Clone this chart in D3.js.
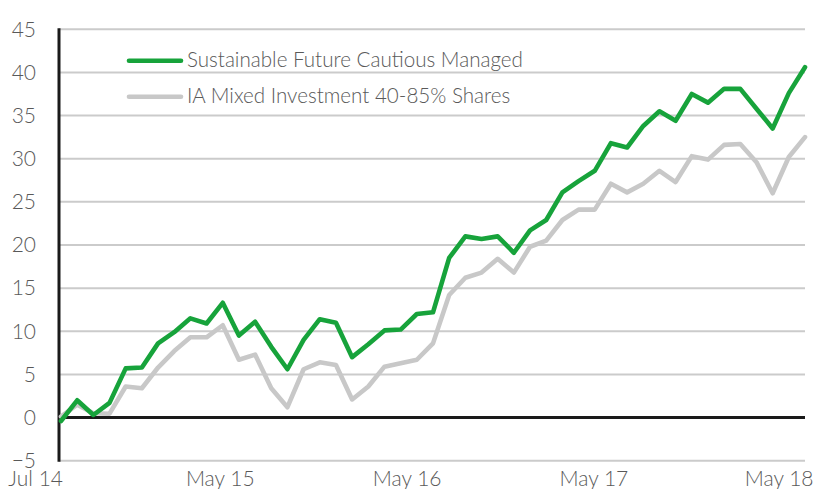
<!DOCTYPE html>
<html>
<head>
<meta charset="utf-8">
<script src="https://cdn.jsdelivr.net/npm/d3@7"></script>
<style>
  html, body { margin: 0; padding: 0; background: #fff; }
  svg { display: block; }
  text { font-family: Lato, "Open Sans", sans-serif; font-weight: 300; fill: #595959; }
</style>
</head>
<body>
<svg id="chart" width="818" height="489"></svg>
<script>
// Monthly cumulative performance (%), Jul 2014 – May 2018
const months = [
  "Jul 14","Aug 14","Sep 14","Oct 14","Nov 14","Dec 14","Jan 15","Feb 15","Mar 15","Apr 15",
  "May 15","Jun 15","Jul 15","Aug 15","Sep 15","Oct 15","Nov 15","Dec 15","Jan 16","Feb 16",
  "Mar 16","Apr 16","May 16","Jun 16","Jul 16","Aug 16","Sep 16","Oct 16","Nov 16","Dec 16",
  "Jan 17","Feb 17","Mar 17","Apr 17","May 17","Jun 17","Jul 17","Aug 17","Sep 17","Oct 17",
  "Nov 17","Dec 17","Jan 18","Feb 18","Mar 18","Apr 18","May 18"
];
const fundName = "Sustainable Future Cautious Managed";
const sectorName = "IA Mixed Investment 40-85% Shares";
const fundValues = [
  -0.4, 2.0, 0.3, 1.7, 5.7, 5.8, 8.6, 9.9, 11.5, 10.9,
  13.3, 9.5, 11.1, 8.2, 5.6, 9.0, 11.4, 11.0, 7.0, 8.5,
  10.1, 10.2, 12.0, 12.2, 18.5, 21.0, 20.7, 21.0, 19.1, 21.7,
  22.9, 26.1, 27.4, 28.6, 31.8, 31.3, 33.8, 35.5, 34.4, 37.5,
  36.5, 38.1, 38.1, 35.8, 33.5, 37.6, 40.6
];
const sectorValues = [
  0.1, 1.5, 0.5, 0.45, 3.6, 3.4, 5.8, 7.7, 9.3, 9.3,
  10.7, 6.7, 7.3, 3.4, 1.2, 5.6, 6.4, 6.1, 2.1, 3.6,
  5.9, 6.3, 6.7, 8.6, 14.2, 16.2, 16.8, 18.4, 16.8, 19.8,
  20.5, 22.9, 24.1, 24.1, 27.1, 26.1, 27.1, 28.6, 27.3, 30.3,
  29.9, 31.6, 31.7, 29.6, 26.0, 30.2, 32.5
];
const yTicks = [-5, 0, 5, 10, 15, 20, 25, 30, 35, 40, 45];
const xTickLabels = ["Jul 14", "May 15", "May 16", "May 17", "May 18"];
// label anchor positions along the month axis
const xTickPositions = [0, 9.85, 21.4, 32.95, 44.4];

const svg = d3.select("#chart");
const plot = { left: 59, right: 805, top: 29.3, bottom: 460.7 };

const x = d3.scaleLinear().domain([0, months.length - 1]).range([61, 805]);
const y = d3.scaleLinear().domain([-5, 45]).range([plot.bottom, plot.top]);

// horizontal gridlines
svg.append("g")
  .selectAll("line")
  .data(yTicks.filter(d => d !== 0))
  .join("line")
  .attr("x1", plot.left).attr("x2", plot.right)
  .attr("y1", d => y(d)).attr("y2", d => y(d))
  .attr("stroke", "#cbcbcb").attr("stroke-width", 2);

// y axis labels
const yAxis = d3.axisLeft(y).tickValues(yTicks).tickSize(0).tickPadding(0);
const gy = svg.append("g").attr("transform", `translate(36,0)`).call(yAxis);
gy.select(".domain").remove();
gy.selectAll("text")
  .attr("font-size", 21)
  .attr("font-family", null)
  .attr("fill", "#595959");

// zero line
svg.append("line")
  .attr("x1", plot.left).attr("x2", plot.right)
  .attr("y1", y(0)).attr("y2", y(0))
  .attr("stroke", "#1a1a1a").attr("stroke-width", 3);

// vertical axis line
svg.append("line")
  .attr("x1", plot.left).attr("x2", plot.left)
  .attr("y1", plot.top - 1).attr("y2", plot.bottom + 1)
  .attr("stroke", "#1a1a1a").attr("stroke-width", 3);

// x labels
svg.append("g")
  .selectAll("text")
  .data(xTickLabels)
  .join("text")
  .attr("x", (d, i) => i === 0 ? x(xTickPositions[i]) + 2 : x(xTickPositions[i]))
  .attr("y", 486)
  .attr("text-anchor", (d, i) => i === 0 ? "end" : "middle")
  .attr("font-size", 21)
  .text(d => d);

// series lines
const line = vals => d3.line()
  .x((d, i) => x(i))
  .y(d => y(d))(vals);

const series = [
  { name: sectorName, values: sectorValues, color: "#c8c8c8" },
  { name: fundName, values: fundValues, color: "#17a33b" }
];

svg.append("g")
  .selectAll("path")
  .data(series)
  .join("path")
  .attr("d", d => line(d.values))
  .attr("fill", "none")
  .attr("stroke", d => d.color)
  .attr("stroke-width", 4.6)
  .attr("stroke-linejoin", "round")
  .attr("stroke-linecap", "round");

// legend
const legendItems = [
  { name: fundName, color: "#17a33b", y: 60.7 },
  { name: sectorName, color: "#c8c8c8", y: 96.7 }
];
const lg = svg.append("g");
lg.selectAll("line")
  .data(legendItems)
  .join("line")
  .attr("x1", 129).attr("x2", 181)
  .attr("y1", d => d.y).attr("y2", d => d.y)
  .attr("stroke", d => d.color)
  .attr("stroke-width", 4.6)
  .attr("stroke-linecap", "round");
lg.selectAll("text")
  .data(legendItems)
  .join("text")
  .attr("x", 187)
  .attr("y", d => d.y + 6.5)
  .attr("font-size", 20.6)
  .text(d => d.name);
</script>
</body>
</html>
